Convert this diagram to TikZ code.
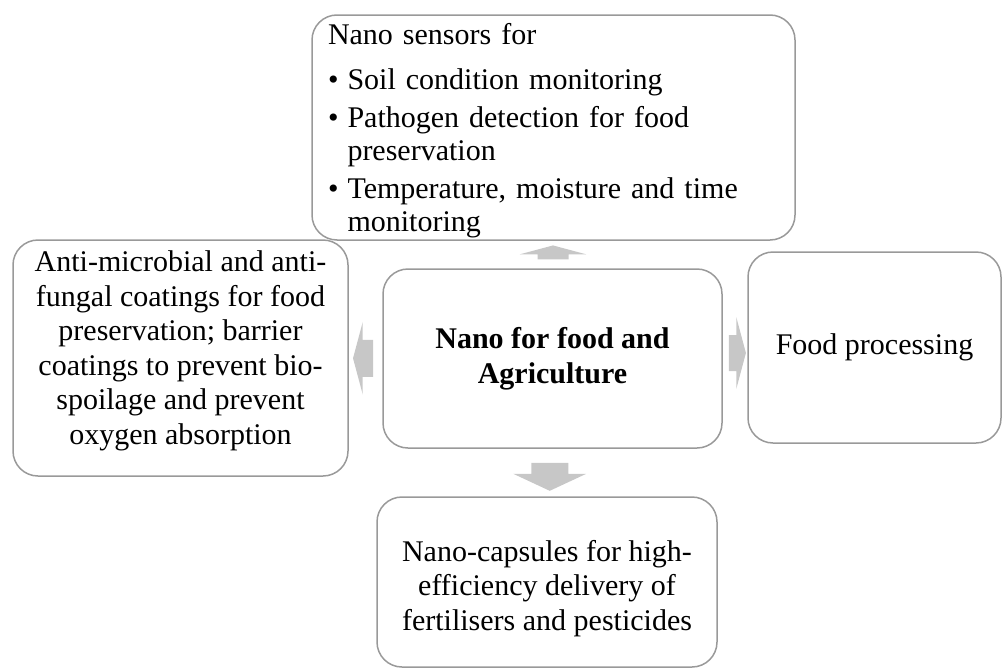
\documentclass[tikz,border=0pt]{standalone}
\usepackage{fontspec}
\setmainfont{Liberation Serif}
\usetikzlibrary{shapes.arrows,calc}

\begin{document}
\begin{tikzpicture}[
  x=1pt, y=-1pt,
  box/.style={draw=black!40, line width=0.6pt, rounded corners=10pt, inner sep=0pt,
    align=center, font=\fontsize{12}{13.8}\selectfont},
  blockarrow/.style={single arrow, fill=black!22, draw=none, inner xsep=0pt,
    single arrow tip angle=150}
]
  \useasboundingbox (0,0) rectangle (401.2,267.6);

  % ==========================================
  % 1. CAJAS
  % ==========================================

  % Nano sensors (arriba)
  \node[box, minimum width=193.2pt, minimum height=90pt, text width=180.4pt,
    inner xsep=6.4pt, align=left, font=\fontsize{12}{13.2}\selectfont]
    (sensors) at (221.4,51) {\raisebox{-1.6pt}[\height][\depth]{%
    \begin{tabular}{@{}l@{\hspace{3.6pt}}l@{}}
      \multicolumn{2}{@{}l@{}}{Nano sensors for}\\[5pt]
      \textbullet & Soil condition monitoring\\[2pt]
      \textbullet & Pathogen detection for food\\
                  & preservation\\[2pt]
      \textbullet & Temperature, moisture and time\\
                  & monitoring
    \end{tabular}}};

  % Centro
  \node[box, minimum width=135.6pt, minimum height=71.6pt,
    font=\fontsize{12}{14}\selectfont\bfseries]
    (hub) at (221,143.4) {Nano for food and\\Agriculture};

  % Recubrimientos (izquierda)
  \node[box, minimum width=134pt, minimum height=94.4pt]
    (coatings) at (72.2,143.2) {\raisebox{2.8pt}[\height][\depth]{%
    \begin{tabular}{@{}c@{}}
      Anti-microbial and anti-\\fungal coatings for food\\
      preservation; barrier\\coatings to prevent bio-\\spoilage and prevent\\
      oxygen absorption
    \end{tabular}}};

  % Procesado (derecha)
  \node[box, minimum width=101.2pt, minimum height=76.4pt]
    (processing) at (349.8,139) {Food processing};

  % Nano-capsulas (abajo)
  \node[box, minimum width=136pt, minimum height=68pt]
    (capsules) at (218.8,232.8) {\raisebox{-2.8pt}[\height][\depth]{%
    \begin{tabular}{@{}c@{}}
      Nano-capsules for high-\\efficiency delivery of\\
      fertilisers and pesticides
    \end{tabular}}};

  % ==========================================
  % 2. FLECHAS
  % ==========================================
  \node[blockarrow, rotate=90, minimum height=5.6pt, minimum width=22.8pt, inner ysep=6pt]
    (toSensors) at ($(hub.north)!0.5!(sensors.south)$) {};
  \node[blockarrow, rotate=180, minimum height=8pt, minimum width=23.6pt, inner ysep=7.2pt]
    (toCoatings) at ($(hub.west)!0.5!(coatings.east)$) {};
  \node[blockarrow, minimum height=6.8pt, minimum width=22pt, inner ysep=7pt]
    (toProcessing) at ($(hub.east)!0.5!(processing.west)$) {};
  \node[blockarrow, rotate=-90, minimum height=11.2pt, minimum width=24pt, inner ysep=7.2pt,
    single arrow tip angle=130]
    (toCapsules) at ($(hub.south)!0.5!(capsules.north)$) {};

\end{tikzpicture}
\end{document}
